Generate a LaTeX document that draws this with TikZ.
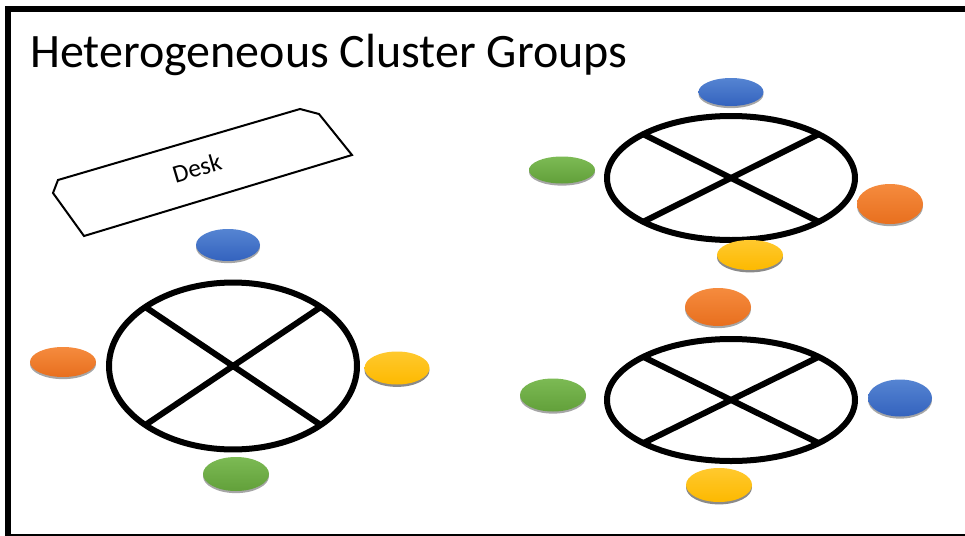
\documentclass[tikz,border=0pt]{standalone}
\usepackage{fontspec}
\setmainfont{Carlito}
\usetikzlibrary{shapes.geometric,shadows,calc}
\definecolor{bluetop}{HTML}{5584D2}
\definecolor{bluebot}{HTML}{3463BE}
\definecolor{orantop}{HTML}{F58B3E}
\definecolor{oranbot}{HTML}{E86F1E}
\definecolor{yeltop}{HTML}{FFC92E}
\definecolor{yelbot}{HTML}{FDB900}
\definecolor{grntop}{HTML}{7CBA54}
\definecolor{grnbot}{HTML}{62A03A}
\tikzset{
  frame/.style={line width=4.5pt},
  tbl/.style={line width=4.5pt},
  deskline/.style={line width=1.5pt, line join=miter},
  seat/.style={ellipse, inner sep=0pt, draw=none,
    drop shadow={shadow xshift=0pt, shadow yshift=-1.6pt, opacity=0.35, fill=black}},
  sz/.style 2 args={minimum width=#1*0.75pt, minimum height=#2*0.75pt},
  sblue/.style={seat, top color=bluetop, bottom color=bluebot},
  sorange/.style={seat, top color=orantop, bottom color=oranbot},
  syellow/.style={ellipse, inner sep=0pt, draw=none, top color=yeltop, bottom color=yelbot,
    drop shadow={shadow xshift=0pt, shadow yshift=-1.8pt, opacity=0.65, fill=black!70}},
  sgreen/.style={seat, top color=grntop, bottom color=grnbot},
}
\begin{document}
\begin{tikzpicture}[x=0.75pt,y=-0.75pt]
\useasboundingbox (0,0) rectangle (965,536);
\clip (0,0) rectangle (965,536);
\fill[white] (0,0) rectangle (965,536);
\draw[frame] (8,9) rectangle (1000,536.5);

% title
\node[anchor=base west, inner sep=0pt, font=\fontsize{36}{40}\selectfont] (title) at (30,67) {Heterogeneous Cluster Groups};

% desk
\draw[deskline] (300,109) -- (319,114) -- (352,155) -- (84,236) -- (53,193) -- (58,180) -- cycle;
\node[rotate=16.5, inner sep=0pt, font=\fontsize{19}{22}\selectfont] (desk) at (197,168) {Desk};

% left table
\coordinate (T1) at (233,366);
\draw[tbl] (T1) ellipse [x radius=93pt, y radius=62.6pt];
\draw[tbl] ($(T1)+(-87.7,-59)$) -- ($(T1)+(87.7,59)$);
\draw[tbl] ($(T1)+(87.7,-59)$) -- ($(T1)+(-87.7,59)$);

% top right table
\coordinate (T2) at (731,178);
\draw[tbl] (T2) ellipse [x radius=93pt, y radius=46.5pt];
\draw[tbl] ($(T2)+(-87.7,-43.8)$) -- ($(T2)+(87.7,43.8)$);
\draw[tbl] ($(T2)+(87.7,-43.8)$) -- ($(T2)+(-87.7,43.8)$);

% bottom right table
\coordinate (T3) at (731,400);
\draw[tbl] (T3) ellipse [x radius=93pt, y radius=45.75pt];
\draw[tbl] ($(T3)+(-87.7,-43.1)$) -- ($(T3)+(87.7,43.1)$);
\draw[tbl] ($(T3)+(87.7,-43.1)$) -- ($(T3)+(-87.7,43.1)$);

% seats left cluster
\node[sblue, sz={64}{32}] (l1) at (228,245) {};
\node[sorange, sz={66}{30}] (l2) at (63,362) {};
\node[syellow, sz={65}{33}] (l3) at (397,368) {};
\node[sgreen, sz={66}{34}] (l4) at (236,474) {};

% seats top right cluster
\node[sblue, sz={65}{28}] (a1) at (731,92) {};
\node[sgreen, sz={66}{27}] (a2) at (562,170) {};
\node[sorange, sz={66}{40}] (a3) at (890,204) {};
\node[syellow, sz={66}{30}] (a4) at (750,255) {};

% seats bottom right cluster
\node[sorange, sz={66}{38}] (b1) at (718,307) {};
\node[sgreen, sz={66}{33}] (b2) at (553,395) {};
\node[sblue, sz={64}{37}] (b3) at (900,398) {};
\node[syellow, sz={66}{34}] (b4) at (719,485) {};
\end{tikzpicture}
\end{document}
